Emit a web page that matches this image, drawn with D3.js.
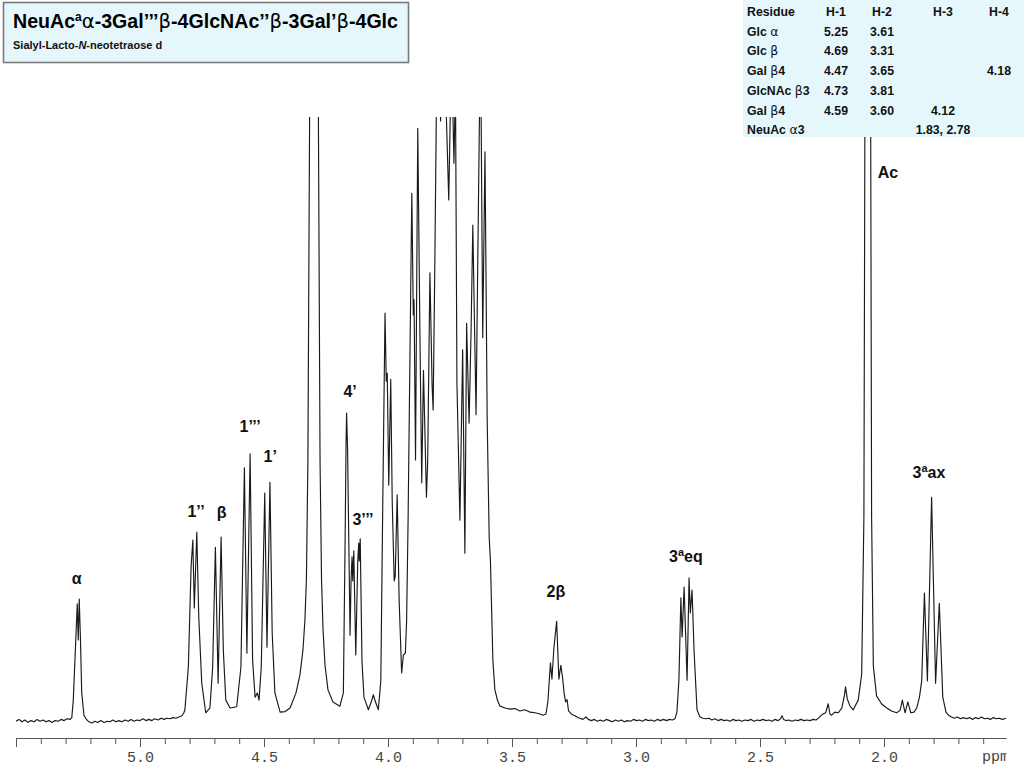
<!DOCTYPE html>
<html lang="en">
<head>
<meta charset="utf-8">
<title>Sialyl-Lacto-N-neotetraose d</title>
<script src="https://cdn.jsdelivr.net/npm/d3@7"></script>
<style>
  html, body { margin: 0; padding: 0; background: #fff; }
  svg { display: block; }
</style>
</head>
<body>
<div id="chart"></div>
<script>
// 1H NMR trace, as [shift (ppm), relative intensity]
const anomericRegion = [
  [5.500, -0.2], [5.488, 0.1], [5.476, -0.3], [5.464, 0.0], [5.452, -0.4], [5.440, -0.1],
  [5.427, -0.3], [5.415, 0.1], [5.403, -0.2], [5.391, 0.0], [5.379, -0.3], [5.367, -0.1],
  [5.355, -0.4], [5.343, -0.1], [5.331, -0.2], [5.318, 0.1], [5.306, -0.1], [5.294, 0.2],
  [5.282, 0.1], [5.275, 0.4], [5.269, 3.3], [5.259, 13.3], [5.253, 19.3], [5.249, 13.3],
  [5.245, 20.1], [5.240, 13.3], [5.235, 4.5], [5.226, 0.8], [5.218, 0.2], [5.206, -0.3],
  [5.194, -0.5], [5.182, -0.2], [5.170, -0.4], [5.158, -0.1], [5.145, -0.4], [5.133, -0.2],
  [5.121, -0.3], [5.109, 0.0], [5.097, -0.3], [5.085, -0.1], [5.073, -0.3], [5.060, 0.0],
  [5.048, -0.2], [5.036, 0.1], [5.024, -0.2], [5.012, 0.0], [5.000, -0.1], [4.988, 0.2],
  [4.976, -0.1], [4.964, 0.1], [4.952, -0.1], [4.940, 0.2], [4.927, 0.0], [4.915, 0.3],
  [4.903, 0.1], [4.891, 0.3], [4.879, 0.2], [4.867, 0.4], [4.855, 0.3], [4.843, 0.5],
  [4.831, 0.7], [4.823, 1.2], [4.819, 1.7], [4.805, 8.8], [4.794, 25.4], [4.787, 29.9],
  [4.781, 18.6], [4.771, 31.2], [4.763, 17.1], [4.751, 6.1], [4.735, 1.2], [4.718, 2.0],
  [4.707, 8.8], [4.696, 28.7], [4.685, 6.1], [4.673, 30.4], [4.664, 11.6], [4.654, 3.3],
  [4.637, 2.0], [4.610, 2.2], [4.593, 8.8], [4.579, 41.9], [4.569, 11.1], [4.556, 44.2],
  [4.546, 10.0], [4.536, 3.8], [4.527, 4.5], [4.520, 3.3], [4.511, 8.8], [4.497, 37.7],
  [4.488, 12.1], [4.476, 39.5], [4.467, 14.5], [4.456, 4.5], [4.435, 1.3], [4.415, 1.4],
];

const waterRegion = [
  [4.395, 2.0], [4.371, 4.5], [4.355, 7.5], [4.343, 11.6], [4.335, 16.6], [4.329, 23.3],
  [4.323, 43.0], [4.298, 250], [4.274, 43.0], [4.268, 23.3], [4.262, 15.0], [4.254, 9.1],
  [4.242, 5.0], [4.222, 3.0], [4.194, 2.3],
];

const galactoseRegion = [
  [4.180, 4.5], [4.173, 29.7], [4.169, 46.3], [4.167, 51.0], [4.163, 45.0], [4.157, 26.4],
  [4.153, 14.1], [4.149, 23.1], [4.145, 27.1], [4.142, 23.1], [4.138, 28.1], [4.130, 10.8],
  [4.122, 26.4], [4.118, 29.4], [4.116, 26.4], [4.112, 30.1], [4.105, 9.8], [4.097, 3.8],
  [4.079, 1.7], [4.066, 3.2], [4.059, 4.2], [4.052, 3.2], [4.039, 1.7], [4.029, 6.5],
  [4.021, 36.4], [4.012, 67.6], [4.007, 56.3], [4.003, 57.6], [3.997, 39.0], [3.989, 56.6],
  [3.983, 36.4], [3.975, 23.1], [3.971, 23.8], [3.963, 37.4], [3.955, 19.8], [3.945, 7.8],
  [3.938, 10.8], [3.930, 11.1], [3.925, 16.4],
];

const ringRegion = [
  [3.919, 33.2], [3.904, 87.5], [3.898, 67.3], [3.895, 69.8], [3.889, 43.2], [3.880, 98.3],
  [3.871, 63.0], [3.864, 39.4], [3.857, 58.1], [3.845, 37.0], [3.840, 43.0], [3.831, 74.3],
  [3.822, 55.3], [3.818, 51.5], [3.811, 76.4], [3.801, 118], [3.788, 99.5], [3.775, 115],
  [3.755, 86.4], [3.744, 112], [3.734, 92.5], [3.728, 106], [3.722, 56.0], [3.710, 33.2],
  [3.699, 61.5], [3.690, 27.7], [3.683, 65.9], [3.673, 49.3], [3.665, 64.8], [3.658, 82.2],
  [3.645, 50.7], [3.637, 80.0], [3.627, 115], [3.618, 63.5], [3.609, 94.4], [3.600, 49.7],
  [3.592, 30.4], [3.587, 26.5], [3.577, 9.8], [3.569, 5.0], [3.558, 3.2], [3.548, 2.3],
];

const glcBetaRegion = [
  [3.528, 2.0], [3.508, 1.8], [3.488, 1.9], [3.468, 1.5], [3.448, 1.7], [3.427, 1.3],
  [3.407, 1.2], [3.387, 1.0], [3.375, 0.8], [3.363, 1.0], [3.355, 3.2], [3.345, 9.5],
  [3.339, 6.8], [3.331, 12.0], [3.320, 16.4], [3.311, 6.8], [3.303, 9.1], [3.296, 7.0],
  [3.290, 4.5], [3.284, 3.0], [3.278, 3.4], [3.272, 1.5], [3.258, 0.9], [3.246, 0.7],
  [3.234, 0.4], [3.226, 0.3], [3.214, 0.1], [3.202, 0.5], [3.192, 0.1], [3.180, -0.1],
  [3.168, 0.1], [3.156, -0.2], [3.144, 0.0], [3.132, -0.2], [3.120, 0.1], [3.107, -0.1],
  [3.095, -0.3], [3.083, 0.0], [3.071, -0.2], [3.059, 0.0], [3.047, -0.3], [3.035, -0.1],
  [3.022, -0.2], [3.010, 0.1], [2.998, -0.1], [2.986, 0.0], [2.974, -0.2], [2.962, 0.1],
  [2.950, -0.1], [2.938, 0.0], [2.926, -0.2], [2.914, 0.1], [2.902, -0.1], [2.889, 0.1],
  [2.877, -0.1], [2.865, 0.1], [2.853, 0.0], [2.843, 0.2],
];

const sialicEqRegion = [
  [2.835, 1.3], [2.827, 6.6], [2.819, 20.3], [2.814, 13.8], [2.806, 22.1], [2.794, 6.6],
  [2.786, 23.6], [2.781, 17.8], [2.774, 21.6], [2.766, 11.6], [2.754, 1.7], [2.742, 0.5],
  [2.730, 0.3], [2.718, 0.2], [2.706, 0.3], [2.694, 0.0], [2.682, 0.2], [2.669, -0.1],
  [2.657, 0.1], [2.645, -0.1], [2.633, 0.0], [2.621, -0.2], [2.609, 0.1], [2.597, -0.1],
  [2.585, 0.0], [2.573, -0.2], [2.561, 0.0], [2.548, -0.1], [2.536, 0.1], [2.524, -0.2],
  [2.512, 0.0], [2.500, -0.1], [2.488, 0.1], [2.476, -0.1], [2.464, 0.0], [2.452, -0.2],
  [2.440, 0.1], [2.427, -0.1], [2.417, 0.2], [2.411, 0.7], [2.405, 0.1], [2.395, -0.1],
  [2.383, 0.0], [2.371, -0.2], [2.359, 0.0], [2.347, -0.1], [2.335, 0.1], [2.323, -0.1],
  [2.310, 0.0], [2.298, -0.1], [2.286, 0.1], [2.274, 0.0], [2.262, 0.4],
];

const acetylRegion = [
  [2.250, 0.9], [2.235, 1.2], [2.225, 2.7], [2.218, 1.0], [2.211, 0.8], [2.198, 1.3],
  [2.184, 1.2], [2.170, 2.0], [2.160, 4.0], [2.155, 5.5], [2.148, 3.5], [2.137, 2.3],
  [2.124, 1.7], [2.104, 3.3], [2.090, 7.6], [2.081, 33.9], [2.065, 300], [2.050, 33.9],
  [2.043, 9.0], [2.030, 4.0], [2.010, 2.7], [1.989, 2.0], [1.970, 1.5], [1.949, 1.2],
  [1.935, 1.6], [1.926, 3.3], [1.915, 1.2], [1.904, 3.0], [1.892, 1.2], [1.879, 1.3],
  [1.868, 2.0], [1.857, 3.8], [1.848, 6.5], [1.837, 21.1], [1.825, 6.5], [1.808, 37.0],
  [1.792, 6.1], [1.777, 19.4], [1.763, 3.8], [1.750, 1.3], [1.740, 0.8], [1.728, 0.5],
  [1.716, 0.3], [1.704, 0.5], [1.692, 0.2], [1.680, 0.4], [1.667, 0.2], [1.655, 0.4],
  [1.643, 0.1], [1.631, 0.4], [1.619, 0.2], [1.607, 0.5], [1.595, 0.2], [1.583, 0.3],
  [1.571, 0.1], [1.559, 0.4], [1.547, 0.2], [1.535, 0.3], [1.523, 0.1], [1.508, 0.3],
];

// peak assignments: text ('^' marks a superscript letter), shift, text baseline level
const peakLabels = ['α', '1’’', 'β', '1’’’', '1’', '4’', '3’’’', '2β', '3^aeq', 'Ac', '3^aax'];
const peakShifts = [5.255, 4.774, 4.671, 4.556, 4.475, 4.153, 4.101, 3.323, 2.799, 1.984, 1.819];
const peakLevels = [22.6, 33.7, 33.6, 47.8, 42.9, 53.7, 32.4, 20.4, 26.3, 90.1, 40.2];

const majorTicks = [5.5, 5.0, 4.5, 4.0, 3.5, 3.0, 2.5, 2.0];
const unlabelledTicks = [5.5];
const axisUnit = 'ppm';

// assignment table
const tableHeaders = ['Residue', 'H-1', 'H-2', 'H-3', 'H-4'];
const residues = ['Glc α', 'Glc β', 'Gal β4', 'GlcNAc β3', 'Gal β4', 'NeuAc α3'];
const shiftsH1 = ['5.25', '4.69', '4.47', '4.73', '4.59', ''];
const shiftsH2 = ['3.61', '3.31', '3.65', '3.81', '3.60', ''];
const shiftsH3 = ['', '', '', '', '4.12', '1.83, 2.78'];
const shiftsH4 = ['', '', '4.18', '', '', ''];

const titleText = 'NeuAc^aα-3Gal’’’β-4GlcNAc’’β-3Gal’β-4Glc';
const subtitleText = 'Sialyl-Lacto-_N_-neotetraose d';

const settings = {
  container: '#chart',
  width: 1024,
  height: 768,
  plot: { left: 16, right: 1008, base: 720, top: 118, clipTop: 117, clipRight: 1006 },
  axisY: 738,
  unitX: 982,
  ink: '#1a1a1a',
  axisInk: '#555',
  panel: '#e5f7fb',
  sans: '"Liberation Sans", Arial, sans-serif',
  mono: '"Liberation Mono", "Courier New", monospace',
  greek: '"DejaVu Sans", "Liberation Serif", serif',
  title: { x: 3.5, y: 2.5, w: 405, h: 60, textX: 13, titleY: 28, subY: 49 },
  table: {
    x: 743, y: 0, w: 281, h: 137,
    firstRow: 16, rowStep: 19.7,
    cols: [{ x: 747, anchor: 'start' }, { x: 836, anchor: 'middle' }, { x: 882, anchor: 'middle' },
      { x: 943, anchor: 'middle' }, { x: 999, anchor: 'middle' }],
  },
};

/**
 * Write a string into a text node, splitting out superscripts (^x),
 * italics (_x_) and greek letters into their own tspans
 */
function richText(text, str, opts = {}) {
  const { supSize = '65%', rise = 5, greekFont, greekWeight, greekSize } = opts;
  const tokens = str.match(/\^.|_[^_]+_|[α-ω]|[^\^_α-ω]+/g) || [];
  let lift = 0;

  tokens.forEach((tok) => {
    const span = text.append('tspan');
    if (lift) {
      span.attr('dy', lift);
      lift = 0;
    }
    if (tok[0] === '^') {
      span.attr('dy', -rise).attr('font-size', supSize).text(tok[1]);
      lift = rise;
    } else if (tok[0] === '_') {
      span.attr('font-style', 'italic').text(tok.slice(1, -1));
    } else if (/[α-ω]/.test(tok) && greekFont) {
      span.attr('font-family', greekFont).attr('font-weight', greekWeight);
      if (greekSize) span.attr('font-size', greekSize);
      span.text(tok);
    } else {
      span.text(tok);
    }
  });
}

const svg = d3.select(settings.container)
  .append('svg')
  .attr('width', settings.width)
  .attr('height', settings.height)
  .attr('font-family', settings.sans);

const { plot } = settings;

const x = d3.scaleLinear().domain([5.5, 1.5]).range([plot.left, plot.right]);
const y = d3.scaleLinear().domain([0, 100]).range([plot.base, plot.top]);

const defs = svg.append('defs');
defs.append('clipPath').attr('id', 'plot-clip')
  .append('rect')
  .attr('x', plot.left)
  .attr('y', plot.clipTop)
  .attr('width', plot.clipRight - plot.left)
  .attr('height', settings.axisY - plot.clipTop);
// used inside the translated axis group, so local coordinates
defs.append('clipPath').attr('id', 'axis-clip')
  .append('rect')
  .attr('x', 0)
  .attr('y', -5)
  .attr('width', plot.clipRight + 0.5)
  .attr('height', 40);

// spectrum
const trace = [].concat(
  anomericRegion, waterRegion, galactoseRegion, ringRegion,
  glcBetaRegion, sialicEqRegion, acetylRegion,
);

svg.append('path')
  .datum(trace)
  .attr('clip-path', 'url(#plot-clip)')
  .attr('fill', 'none')
  .attr('stroke', settings.ink)
  .attr('stroke-width', 1.15)
  .attr('stroke-linejoin', 'round')
  .attr('d', d3.line().x(d => x(d[0])).y(d => y(d[1])));

// ppm axis
const axisG = svg.append('g')
  .attr('transform', `translate(0,${settings.axisY})`)
  .attr('clip-path', 'url(#axis-clip)');

axisG.append('g')
  .call(d3.axisBottom(x).ticks(40).tickSize(6).tickSizeOuter(0).tickFormat(''));

const fmt = d3.format('.1f');
axisG.append('g')
  .call(d3.axisBottom(x)
    .tickValues(majorTicks)
    .tickSize(9)
    .tickSizeOuter(0)
    .tickPadding(4)
    .tickFormat(d => (unlabelledTicks.includes(d) ? '' : fmt(d))));

axisG.selectAll('.domain, .tick line')
  .attr('stroke', settings.axisInk)
  .attr('stroke-width', 1);
axisG.selectAll('.tick text')
  .attr('font-family', settings.mono)
  .attr('font-size', 15)
  .attr('fill', '#444');

// the unit runs past the clip, as in the original print
axisG.append('text')
  .attr('x', settings.unitX)
  .attr('y', 23)
  .attr('font-family', settings.mono)
  .attr('font-size', 15)
  .attr('fill', '#444')
  .text(axisUnit);

// peak labels
peakLabels.forEach((label, i) => {
  const t = svg.append('text')
    .attr('x', x(peakShifts[i]))
    .attr('y', y(peakLevels[i]))
    .attr('text-anchor', 'middle')
    .attr('font-size', 16)
    .attr('font-weight', 'bold')
    .attr('fill', '#111');
  richText(t, label, { supSize: 11, rise: 6 });
});

// title panel
const { title } = settings;
svg.append('rect')
  .attr('x', title.x)
  .attr('y', title.y)
  .attr('width', title.w)
  .attr('height', title.h)
  .attr('fill', settings.panel)
  .attr('stroke', '#7a7a7a')
  .attr('stroke-width', 1.6);

richText(svg.append('text')
  .attr('x', title.textX)
  .attr('y', title.titleY)
  .attr('font-size', 19.6)
  .attr('font-weight', 'bold')
  .attr('fill', '#000'), titleText, {
  supSize: 12, rise: 7, greekFont: settings.greek, greekWeight: 'normal',
});

richText(svg.append('text')
  .attr('x', title.textX)
  .attr('y', title.subY)
  .attr('font-size', 11)
  .attr('font-weight', 'bold')
  .attr('fill', '#111'), subtitleText);

// assignment table
const { table } = settings;
svg.append('rect')
  .attr('x', table.x)
  .attr('y', table.y)
  .attr('width', table.w)
  .attr('height', table.h)
  .attr('fill', settings.panel);

const rows = [tableHeaders].concat(residues.map((r, i) => [
  r, shiftsH1[i], shiftsH2[i], shiftsH3[i], shiftsH4[i],
]));

rows.forEach((row, r) => {
  row.forEach((cell, c) => {
    if (!cell) return;
    const col = table.cols[c];
    const t = svg.append('text')
      .attr('x', col.x)
      .attr('y', table.firstRow + (r * table.rowStep))
      .attr('text-anchor', col.anchor)
      .attr('font-size', 12.3)
      .attr('font-weight', 'bold')
      .attr('fill', '#111');
    richText(t, cell, {
      greekFont: settings.greek, greekWeight: 'normal', greekSize: 12.5,
    });
  });
});
</script>
</body>
</html>
